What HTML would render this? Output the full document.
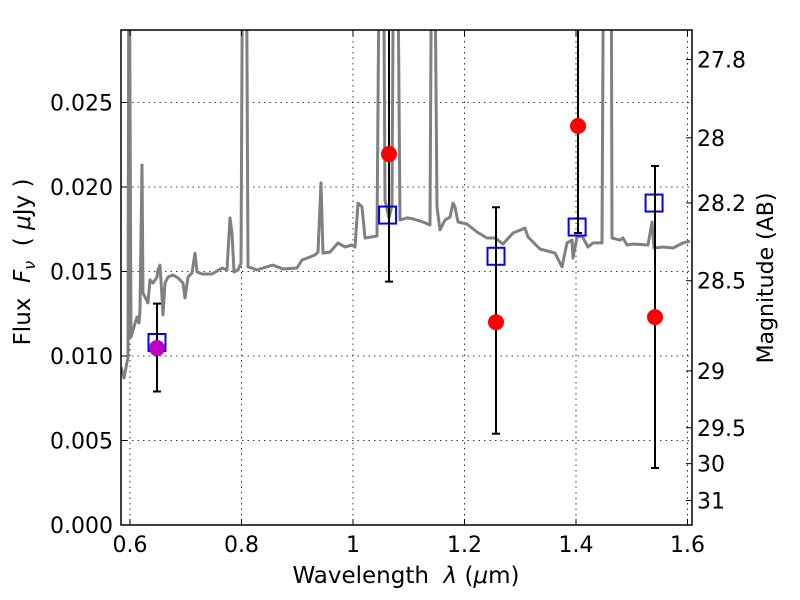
<!DOCTYPE html>
<html><head><meta charset="utf-8"><style>
body{margin:0;background:#fff;}
svg{display:block;font-family:"DejaVu Sans","Liberation Sans",sans-serif;}
</style></head><body>
<svg id="chart" width="800" height="600" viewBox="0 0 800 600">
<defs><clipPath id="clip"><rect x="121" y="30" width="571" height="495"/></clipPath></defs>
<g id="grid"></g>
<g id="spec" clip-path="url(#clip)"></g>
<g id="marks" clip-path="url(#clip)"></g>
<rect x="121" y="30" width="571" height="495" fill="none" stroke="#000" stroke-width="1.5"/>
<g id="axes"></g>
<text x="406" y="583" font-size="23" text-anchor="middle" xml:space="preserve">Wavelength  <tspan font-style="italic">λ</tspan> (<tspan font-style="italic">μ</tspan>m)</text>
<text transform="translate(30,262) rotate(-90)" font-size="23" text-anchor="middle" xml:space="preserve">Flux  <tspan font-style="italic">F</tspan><tspan font-style="italic" font-size="16" dy="5">ν</tspan><tspan dy="-5">  ( </tspan><tspan font-style="italic">μ</tspan>Jy )</text>
<text transform="translate(773,278) rotate(-90)" font-size="22" text-anchor="middle">Magnitude (AB)</text>
</svg>
<script>
const xTicks=[0.6,0.8,1.0,1.2,1.4,1.6];
const xTickLabels=["0.6","0.8","1","1.2","1.4","1.6"];
const yTicks=[0,0.005,0.01,0.015,0.02,0.025];
const yTickLabels=["0.000","0.005","0.010","0.015","0.020","0.025"];
const magTicks=[27.8,28,28.2,28.5,29,29.5,30,31];
const magTickLabels=["27.8","28","28.2","28.5","29","29.5","30","31"];
const specWave=[0.5839,0.5892,0.5964,0.5982,0.6018,0.6054,0.6126,0.6161,0.6179,0.6215,0.6233,0.6269,0.6323,0.6359,0.6413,0.6484,0.6502,0.6538,0.6574,0.6592,0.6628,0.6682,0.6771,0.6861,0.6951,0.6987,0.7040,0.7112,0.7166,0.7202,0.7291,0.7471,0.7650,0.7740,0.7794,0.7830,0.7865,0.7937,0.7991,0.8027,0.8081,0.8117,0.8188,0.8278,0.8386,0.8565,0.8744,0.8996,0.9085,0.9229,0.9318,0.9372,0.9426,0.9462,0.9587,0.9731,0.9857,0.9982,1.0036,1.0090,1.0161,1.0215,1.0430,1.0484,1.0538,1.0574,1.0646,1.0700,1.0735,1.0789,1.0843,1.0969,1.1076,1.1256,1.1381,1.1417,1.1453,1.1507,1.1561,1.1650,1.1740,1.1794,1.1830,1.1883,1.2045,1.2224,1.2404,1.2547,1.2691,1.2870,1.3085,1.3139,1.3354,1.3623,1.3749,1.3839,1.3928,1.3946,1.4018,1.4108,1.4215,1.4305,1.4466,1.4502,1.4628,1.4646,1.4789,1.4843,1.4915,1.5022,1.5291,1.5363,1.5399,1.5561,1.5740,1.5919,1.6045];
const specFlux=[0.00935,0.00870,0.00994,0.04,0.01112,0.01154,0.01231,0.01195,0.01272,0.02130,0.01373,0.01349,0.01314,0.01450,0.01432,0.01467,0.01509,0.01538,0.01349,0.01243,0.01432,0.01467,0.01479,0.01462,0.01432,0.01343,0.01467,0.01491,0.01609,0.01497,0.01485,0.01485,0.01521,0.01509,0.01817,0.01728,0.01497,0.01509,0.01550,0.04,0.04,0.01527,0.01521,0.01509,0.01521,0.01538,0.01515,0.01521,0.01568,0.01586,0.01598,0.01615,0.02024,0.01609,0.01615,0.01669,0.01645,0.01657,0.01645,0.01905,0.01882,0.01698,0.01710,0.04,0.04,0.01923,0.01817,0.01893,0.04,0.04,0.01805,0.01817,0.01811,0.01793,0.01775,0.04,0.04,0.01882,0.01746,0.01805,0.01822,0.01905,0.01882,0.01793,0.01781,0.01734,0.01698,0.01698,0.01663,0.01728,0.01757,0.01704,0.01633,0.01609,0.01527,0.01669,0.01686,0.01580,0.01704,0.01710,0.01645,0.01669,0.01669,0.04,0.04,0.01698,0.01686,0.01698,0.01657,0.01663,0.01657,0.01793,0.01639,0.01645,0.01639,0.01669,0.01680];
const obsWave=[1.0646,1.2565,1.4036,1.5417];
const obsFlux=[0.02195,0.0120,0.02361,0.0123];
const errLow=[0.0144,0.0054,0.01728,0.00337];
const errHigh=[0.040,0.0188,0.040,0.02124];
const vWave=[0.6484];
const vFlux=[0.01047];
const vLow=[0.0079];
const vHigh=[0.0131];
const modelWave=[0.6484,1.0620,1.2565,1.4020,1.5400];
const modelFlux=[0.0108,0.01834,0.0159,0.01763,0.01905];

const NS="http://www.w3.org/2000/svg";
const X0=130,PXU=557.5,Y0=525,PYU=16900;
function sx(l){return X0+(l-0.6)*PXU;}
function sy(f){return Y0-f*PYU;}
function magToFlux(m){return Math.pow(10,(23.9-m)/2.5);}
function mk(tag,attrs,parent){const e=document.createElementNS(NS,tag);for(const k in attrs)e.setAttribute(k,attrs[k]);parent.appendChild(e);return e;}
const grid=document.getElementById('grid'),axes=document.getElementById('axes');
xTicks.forEach((t,i)=>{
  const x=sx(t);
  const g=mk('line',{x1:x,x2:x,y1:30,y2:525,stroke:'#000','stroke-width':0.8,'stroke-dasharray':'1.5,4'},grid);
  
  
  mk('line',{x1:x,x2:x,y1:525,y2:519,stroke:'#000'},axes);
  mk('line',{x1:x,x2:x,y1:30,y2:36,stroke:'#000'},axes);
  const tx=mk('text',{x:x,y:552,'font-size':22,'text-anchor':'middle'},axes);
  tx.textContent=xTickLabels[i];
  
  
});
yTicks.forEach((t,i)=>{
  const y=sy(t);
  const g=mk('line',{x1:121,x2:692,y1:y,y2:y,stroke:'#000','stroke-width':0.8,'stroke-dasharray':'1.5,4'},grid);
  
  
  mk('line',{x1:121,x2:127,y1:y,y2:y,stroke:'#000'},axes);
  const tx=mk('text',{x:113,y:y+8,'font-size':22,'text-anchor':'end'},axes);
  tx.textContent=yTickLabels[i];
  
  
});
magTicks.forEach((m,i)=>{
  const y=sy(magToFlux(m));
  mk('line',{x1:686,x2:692,y1:y,y2:y,stroke:'#000'},axes);
  const tx=mk('text',{x:697,y:y+8,'font-size':22},axes);
  tx.textContent=magTickLabels[i];
  
  
});
const spec=document.getElementById('spec');
let d=specWave.map((w,i)=>(i?'L':'M')+sx(w).toFixed(1)+','+sy(specFlux[i]).toFixed(1)).join(' ');
const sp=mk('path',{d:d,fill:'none',stroke:'#808080','stroke-width':3,'stroke-linejoin':'round'},spec);


const marks=document.getElementById('marks');
function errbar(w,lo,hi){
  const x=sx(w);
  const e=mk('g',{},marks);
  
  
  mk('line',{x1:x,x2:x,y1:sy(lo),y2:sy(hi),stroke:'#000','stroke-width':2},e);
  mk('line',{x1:x-4,x2:x+4,y1:sy(lo),y2:sy(lo),stroke:'#000','stroke-width':2},e);
  mk('line',{x1:x-4,x2:x+4,y1:sy(hi),y2:sy(hi),stroke:'#000','stroke-width':2},e);
}
modelWave.forEach((w,i)=>{
  const r=mk('rect',{x:sx(w)-8.5,y:sy(modelFlux[i])-8.5,width:17,height:17,fill:'none',stroke:'#0000ff','stroke-width':2},marks);
  
  
});
vWave.forEach((w,i)=>{
  errbar(w,vLow[i],vHigh[i]);
  const c=mk('circle',{cx:sx(w),cy:sy(vFlux[i]),r:8,fill:'#bf00bf'},marks);
  
  
});
obsWave.forEach((w,i)=>{
  errbar(w,errLow[i],errHigh[i]);
  const c=mk('circle',{cx:sx(w),cy:sy(obsFlux[i]),r:8,fill:'#ff0000'},marks);
  
  
});
</script>
</body></html>
